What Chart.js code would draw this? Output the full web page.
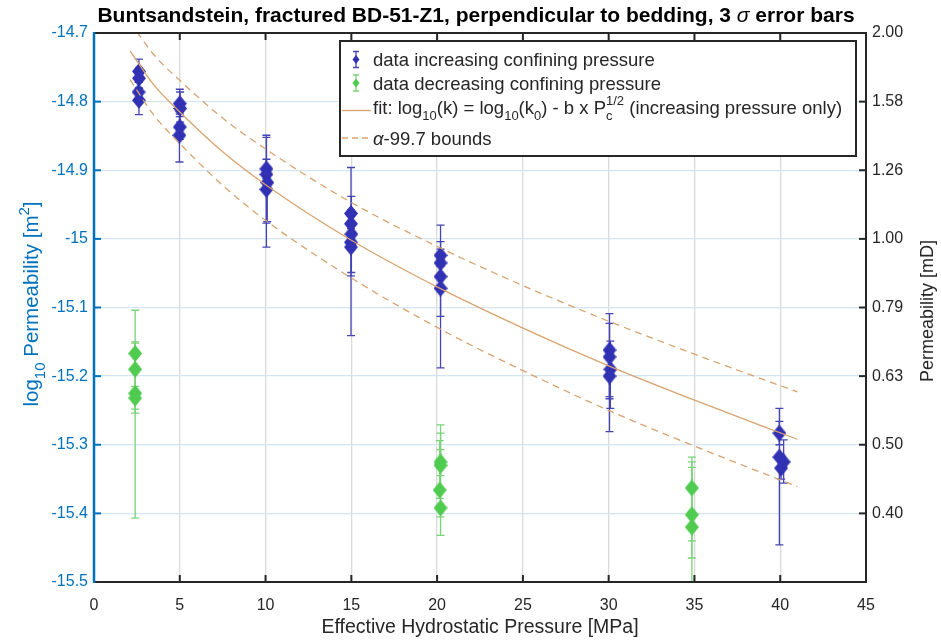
<!DOCTYPE html>
<html>
<head>
<meta charset="utf-8">
<script src="https://cdn.jsdelivr.net/npm/chart.js@4.4.1/dist/chart.umd.min.js"></script>
<style>
  html, body { margin: 0; padding: 0; background: #ffffff; }
  #wrap { width: 941px; height: 642px; position: relative; }
</style>
</head>
<body>
<div id="wrap"><canvas id="c" width="941" height="642"></canvas></div>
<script>
// Increasing confining pressure: pressure [MPa], log10 k [m^2], 3-sigma bar ends
const incP      = [2.62, 2.62, 2.60, 2.62, 5.00, 5.02, 5.00, 4.98, 10.05, 10.05, 10.10, 10.05,
                   14.98, 14.98, 15.00, 14.98, 14.98, 20.2, 20.2, 20.2, 20.2,
                   30.05, 30.05, 30.10, 30.05, 39.95, 39.95, 40.20, 40.05];
const incLogK   = [-14.756, -14.766, -14.786, -14.798, -14.803, -14.810, -14.837, -14.849,
                   -14.898, -14.906, -14.918, -14.928,
                   -14.963, -14.978, -14.993, -15.005, -15.012,
                   -15.024, -15.035, -15.055, -15.072,
                   -15.162, -15.172, -15.190, -15.200,
                   -15.283, -15.318, -15.325, -15.334];
const incBarLo  = [-14.772, -14.781, -14.800, -14.819, -14.822, -14.830, -14.855, -14.888,
                   -14.912, -14.977, -14.975, -15.012,
                   -14.985, -15.000, -15.049, -15.054, -15.141,
                   -15.040, -15.055, -15.113, -15.188,
                   -15.230, -15.233, -15.247, -15.281,
                   -15.300, -15.446, -15.356, -15.350];
const incBarHi  = [-14.738, -14.751, -14.772, -14.780, -14.782, -14.786, -14.818, -14.815,
                   -14.884, -14.852, -14.895, -14.849,
                   -14.958, -14.965, -14.938, -14.960, -14.896,
                   -15.004, -15.015, -14.980, -15.030,
                   -15.109, -15.123, -15.149, -15.170,
                   -15.266, -15.247, -15.293, -15.318];

// Decreasing confining pressure
const decP      = [2.4, 2.4, 2.4, 2.4, 20.2, 20.2, 20.15, 20.2, 34.85, 34.85, 34.85];
const decLogK   = [-15.167, -15.190, -15.225, -15.232, -15.325, -15.330, -15.366, -15.392,
                   -15.363, -15.402, -15.420];
const decBarLo  = [-15.407, -15.222, -15.254, -15.248, -15.432, -15.345, -15.378, -15.405,
                   -15.465, -15.520, -15.440];
const decBarHi  = [-15.104, -15.150, -15.152, -15.215, -15.271, -15.283, -15.294, -15.307,
                   -15.318, -15.325, -15.333];

// Square-root fit and its 99.7 % bounds, sampled along the pressure axis
const fitP      = [2.1, 3.5, 5, 7.5, 10, 15, 20, 25, 30, 35, 41];
const fitLog    = [-14.726, -14.776, -14.815, -14.873, -14.921, -15.002, -15.070, -15.130, -15.185, -15.235, -15.292];
const upperLog  = [-14.684, -14.732, -14.769, -14.824, -14.869, -14.947, -15.011, -15.068, -15.120, -15.168, -15.223];
const lowerLog  = [-14.768, -14.820, -14.861, -14.922, -14.973, -15.057, -15.129, -15.192, -15.250, -15.302, -15.361];

// Axis ticks
const xTickVals    = [0, 5, 10, 15, 20, 25, 30, 35, 40, 45];
const yTickVals    = [-15.5, -15.4, -15.3, -15.2, -15.1, -15, -14.9, -14.8, -14.7];
const yTickLabels  = ['-15.5', '-15.4', '-15.3', '-15.2', '-15.1', '-15', '-14.9', '-14.8', '-14.7'];
const mdTickLabels = ['', '0.40', '0.50', '0.63', '0.79', '1.00', '1.26', '1.58', '2.00'];

const FONT = '"Liberation Sans", Arial, Helvetica, sans-serif';
const AX_BLUE = '#0072BD';
const INK = '#262626';
const INC_FILL = '#3131B4';
const INC_BAR = '#4545B5';
const DEC_FILL = '#4FCB4F';
const DEC_BAR = '#79D479';
const FIT_COL = '#D9A36E';

function fontStr(size, bold, italic) {
  return (italic ? 'italic ' : '') + (bold ? 'bold ' : '') + size + 'px ' + FONT;
}

// Lay out a run of text pieces with sub/superscripts
function layoutRich(ctx, segs, size, bold) {
  let w = 0;
  const items = [];
  for (const s of segs) {
    if (typeof s === 'string') {
      const f = fontStr(size, bold, false);
      ctx.font = f;
      items.push({ t: s, x: w, dy: 0, f });
      w += ctx.measureText(s).width;
    } else if (s.it !== undefined) {
      const f = fontStr(size, false, true);
      ctx.font = f;
      items.push({ t: s.it, x: w, dy: 0, f });
      w += ctx.measureText(s.it).width;
    } else {
      const ss = Math.round(size * 0.72);
      const f = fontStr(ss, false, false);
      ctx.font = f;
      let ww = 0;
      if (s.sub) { items.push({ t: s.sub, x: w, dy: size * 0.33, f }); ww = Math.max(ww, ctx.measureText(s.sub).width); }
      if (s.sup) { items.push({ t: s.sup, x: w, dy: -size * 0.45, f }); ww = Math.max(ww, ctx.measureText(s.sup).width); }
      w += ww;
    }
  }
  return { w, items };
}

function drawRich(ctx, x, y, segs, size, color, align, bold) {
  const lay = layoutRich(ctx, segs, size, bold);
  let x0 = x;
  if (align === 'center') x0 = x - lay.w / 2;
  ctx.fillStyle = color;
  ctx.textBaseline = 'alphabetic';
  ctx.textAlign = 'left';
  for (const it of lay.items) {
    ctx.font = it.f;
    ctx.fillText(it.t, x0 + it.x, y + it.dy);
  }
}

function drawBars(ctx, xs, ys, P, lo, hi, color) {
  ctx.strokeStyle = color;
  ctx.lineWidth = 1.3;
  const cap = 4;
  for (let i = 0; i < P.length; i++) {
    const x = xs.getPixelForValue(P[i]);
    const y1 = ys.getPixelForValue(lo[i]);
    const y2 = ys.getPixelForValue(hi[i]);
    ctx.beginPath();
    ctx.moveTo(x, y1); ctx.lineTo(x, y2);
    ctx.moveTo(x - cap, y1); ctx.lineTo(x + cap, y1);
    ctx.moveTo(x - cap, y2); ctx.lineTo(x + cap, y2);
    ctx.stroke();
  }
}

function diamondPath(ctx, x, y, hw, hh) {
  ctx.beginPath();
  ctx.moveTo(x, y - hh); ctx.lineTo(x + hw, y); ctx.lineTo(x, y + hh); ctx.lineTo(x - hw, y);
  ctx.closePath();
}

// Marker sprite: a diamond slightly taller than wide
function diamondSprite(color, w, h) {
  const cv = document.createElement('canvas');
  cv.width = w; cv.height = h;
  const g = cv.getContext('2d');
  g.fillStyle = color;
  diamondPath(g, w / 2, h / 2, w / 2, h / 2);
  g.fill();
  return cv;
}

const decor = {
  id: 'decor',
  beforeDatasetsDraw(chart) {
    const { ctx, chartArea: a, scales } = chart;
    ctx.save();
    ctx.beginPath();
    ctx.rect(a.left, a.top, a.right - a.left, a.bottom - a.top);
    ctx.clip();
    drawBars(ctx, scales.x, scales.y, decP, decBarLo, decBarHi, DEC_BAR);
    drawBars(ctx, scales.x, scales.y, incP, incBarLo, incBarHi, INC_BAR);
    ctx.restore();
  },
  afterDraw(chart) {
    const { ctx, chartArea: a, scales } = chart;
    ctx.save();
    const tick = 7;
    // inward tick marks
    ctx.lineWidth = 2;
    ctx.strokeStyle = INK;
    for (const v of xTickVals) {
      const x = scales.x.getPixelForValue(v);
      ctx.beginPath();
      ctx.moveTo(x, a.bottom); ctx.lineTo(x, a.bottom - tick);
      ctx.moveTo(x, a.top); ctx.lineTo(x, a.top + tick);
      ctx.stroke();
    }
    for (const v of yTickVals) {
      const y = scales.y.getPixelForValue(v);
      ctx.strokeStyle = INK;
      ctx.beginPath(); ctx.moveTo(a.right, y); ctx.lineTo(a.right - tick, y); ctx.stroke();
      ctx.strokeStyle = AX_BLUE;
      ctx.beginPath(); ctx.moveTo(a.left, y); ctx.lineTo(a.left + tick, y); ctx.stroke();
    }
    // axes box
    ctx.strokeStyle = INK;
    ctx.lineWidth = 2;
    ctx.beginPath();
    ctx.moveTo(a.left, a.top); ctx.lineTo(a.right, a.top); ctx.lineTo(a.right, a.bottom); ctx.lineTo(a.left, a.bottom);
    ctx.stroke();
    ctx.strokeStyle = AX_BLUE;
    ctx.lineWidth = 2.5;
    ctx.beginPath(); ctx.moveTo(a.left, a.top - 1); ctx.lineTo(a.left, a.bottom + 1); ctx.stroke();

    // title
    drawRich(ctx, 476, 22,
      ['Buntsandstein, fractured BD-51-Z1, perpendicular to bedding, 3 ', { it: 'σ' }, ' error bars'],
      21, '#000000', 'center', true);

    // x axis title
    drawRich(ctx, (a.left + a.right) / 2, 633, ['Effective Hydrostatic Pressure [MPa]'], 19.5, INK, 'center', false);

    // left axis title (rotated)
    ctx.save();
    ctx.translate(38, 304);
    ctx.rotate(-Math.PI / 2);
    drawRich(ctx, 0, 0, ['log', { sub: '10' }, ' Permeability [m', { sup: '2' }, ']'], 20.5, AX_BLUE, 'center', false);
    ctx.restore();

    // right axis title (rotated)
    ctx.save();
    ctx.translate(933, 311);
    ctx.rotate(-Math.PI / 2);
    drawRich(ctx, 0, 0, ['Permeability [mD]'], 18, INK, 'center', false);
    ctx.restore();

    // legend
    const L = 340, T = 41, R = 856, B = 156;
    ctx.fillStyle = '#ffffff';
    ctx.fillRect(L, T, R - L, B - T);
    ctx.strokeStyle = INK;
    ctx.lineWidth = 2;
    ctx.strokeRect(L, T, R - L, B - T);
    const rows = [59.5, 83, 110.5, 138];
    const ix = L + 16, tx = L + 33, fs = 18.5;
    const icon = (y, bar, fill) => {
      ctx.strokeStyle = bar; ctx.lineWidth = 1.3;
      ctx.beginPath();
      ctx.moveTo(ix, y - 8); ctx.lineTo(ix, y + 8);
      ctx.moveTo(ix - 3, y - 8); ctx.lineTo(ix + 3, y - 8);
      ctx.moveTo(ix - 3, y + 8); ctx.lineTo(ix + 3, y + 8);
      ctx.stroke();
      ctx.fillStyle = fill;
      diamondPath(ctx, ix, y, 3.5, 4.5);
      ctx.fill();
    };
    icon(rows[0], INC_BAR, INC_FILL);
    icon(rows[1], DEC_BAR, DEC_FILL);
    ctx.strokeStyle = FIT_COL; ctx.lineWidth = 1.3;
    ctx.setLineDash([]);
    ctx.beginPath(); ctx.moveTo(L + 2, rows[2]); ctx.lineTo(L + 31, rows[2]); ctx.stroke();
    ctx.setLineDash([6, 4]);
    ctx.beginPath(); ctx.moveTo(L + 2, rows[3]); ctx.lineTo(L + 31, rows[3]); ctx.stroke();
    ctx.setLineDash([]);
    drawRich(ctx, tx, rows[0] + 6.5, ['data increasing confining pressure'], fs, INK, 'left', false);
    drawRich(ctx, tx, rows[1] + 6.5, ['data decreasing confining pressure'], fs, INK, 'left', false);
    drawRich(ctx, tx, rows[2] + 3,
      ['fit: log', { sub: '10' }, '(k) = log', { sub: '10' }, '(k', { sub: '0' }, ') - b x P', { sub: 'c', sup: '1/2' }, ' (increasing pressure only)'],
      fs, INK, 'left', false);
    drawRich(ctx, tx, rows[3] + 6.5, [{ it: 'α' }, '-99.7 bounds'], fs, INK, 'left', false);
    ctx.restore();
  }
};

const toPts = (xs, ys) => xs.map((x, i) => ({ x: x, y: ys[i] }));

new Chart(document.getElementById('c'), {
  type: 'scatter',
  data: {
    datasets: [
      { label: 'fit', data: toPts(fitP, fitLog), showLine: true, borderColor: FIT_COL, borderWidth: 1.3,
        pointRadius: 0, cubicInterpolationMode: 'monotone', clip: 0, order: 0 },
      { label: 'upper', data: toPts(fitP, upperLog), showLine: true, borderColor: FIT_COL, borderWidth: 1.3,
        borderDash: [7, 5], pointRadius: 0, cubicInterpolationMode: 'monotone', clip: 0, order: 0 },
      { label: 'lower', data: toPts(fitP, lowerLog), showLine: true, borderColor: FIT_COL, borderWidth: 1.3,
        borderDash: [7, 5], pointRadius: 0, cubicInterpolationMode: 'monotone', clip: 0, order: 0 },
      { label: 'data increasing confining pressure', data: toPts(incP, incLogK), showLine: false,
        pointStyle: diamondSprite(INC_FILL, 14, 17), pointRadius: 8, order: 1 },
      { label: 'data decreasing confining pressure', data: toPts(decP, decLogK), showLine: false,
        pointStyle: diamondSprite(DEC_FILL, 14, 17), pointRadius: 8, order: 2 }
    ]
  },
  options: {
    responsive: false,
    animation: false,
    devicePixelRatio: 1,
    layout: { padding: { top: 33, left: 0, right: 0, bottom: 0 } },
    plugins: { legend: { display: false }, tooltip: { enabled: false }, title: { display: false } },
    scales: {
      x: {
        type: 'linear', position: 'bottom', min: 0, max: 45,
        afterBuildTicks: s => { s.ticks = xTickVals.map(v => ({ value: v })); },
        afterFit: s => { s.height = 60; },
        ticks: { padding: 14, color: INK, font: { family: FONT, size: 16 }, maxRotation: 0, autoSkip: false,
                 callback: (v) => String(v) },
        grid: { color: '#dadada', lineWidth: 1.3, drawTicks: false },
        border: { display: false }
      },
      y: {
        type: 'linear', position: 'left', min: -15.5, max: -14.7,
        afterBuildTicks: s => { s.ticks = yTickVals.map(v => ({ value: v })); },
        afterFit: s => { s.width = 94; },
        ticks: { padding: 6, color: AX_BLUE, font: { family: FONT, size: 16 }, autoSkip: false,
                 callback: (v, i) => yTickLabels[i] },
        grid: { color: '#d3e5f3', lineWidth: 1.3, drawTicks: false },
        border: { display: false }
      },
      y2: {
        type: 'linear', position: 'right', min: -15.5, max: -14.7,
        afterBuildTicks: s => { s.ticks = yTickVals.map(v => ({ value: v })); },
        afterFit: s => { s.width = 75; },
        ticks: { padding: 6, color: INK, font: { family: FONT, size: 16 }, autoSkip: false,
                 callback: (v, i) => mdTickLabels[i] },
        grid: { display: false, drawTicks: false },
        border: { display: false }
      }
    }
  },
  plugins: [decor]
});
</script>
</body>
</html>
